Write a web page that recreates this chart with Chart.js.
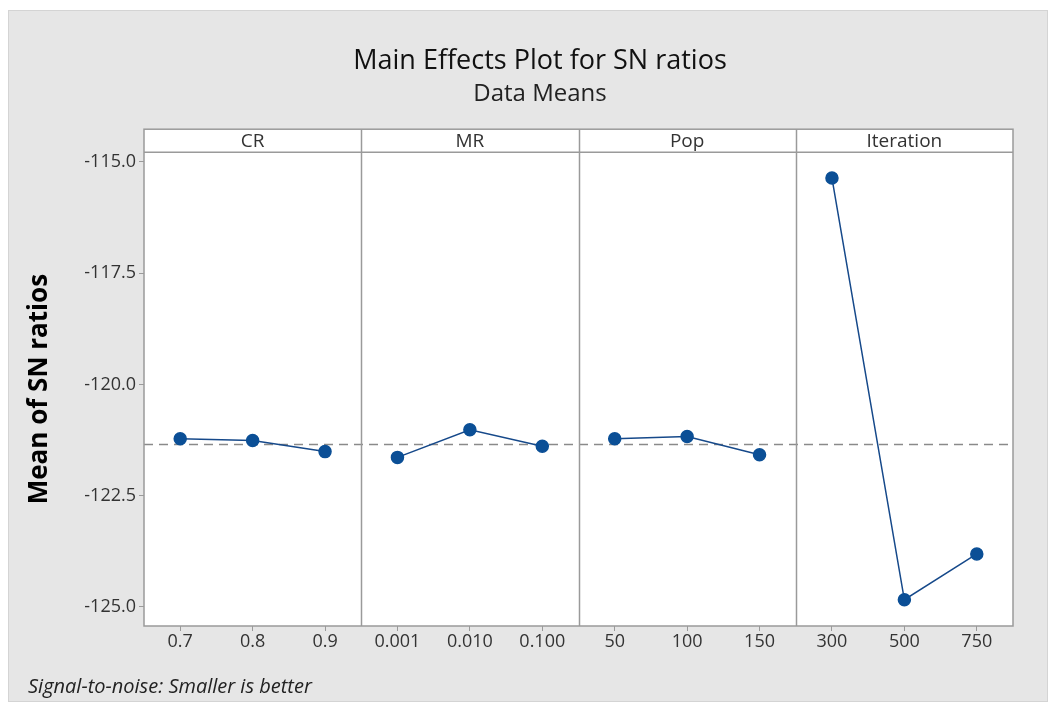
<!DOCTYPE html>
<html>
<head>
<meta charset="utf-8">
<script src="https://cdn.jsdelivr.net/npm/chart.js@4/dist/chart.umd.min.js"></script>
<style>
  html, body { margin: 0; padding: 0; background: #ffffff; }
  #wrap { width: 1057px; height: 707px; }
</style>
</head>
<body>
<div id="wrap"><canvas id="c" width="1057" height="707"></canvas></div>
<script>
// ---- data ----
const factorNames = ['CR', 'MR', 'Pop', 'Iteration'];
const crLevels = ['0.7', '0.8', '0.9'];
const crMeans = [-121.22, -121.26, -121.51];
const mrLevels = ['0.001', '0.010', '0.100'];
const mrMeans = [-121.64, -121.02, -121.39];
const popLevels = ['50', '100', '150'];
const popMeans = [-121.22, -121.17, -121.58];
const iterLevels = ['300', '500', '750'];
const iterMeans = [-115.36, -124.84, -123.81];
const grandMean = -121.34;
const yTicks = [-125.0, -122.5, -120.0, -117.5, -115.0];
const yMin = -125.43;
const yMax = -114.78;

const levelGroups = [crLevels, mrLevels, popLevels, iterLevels];
const meanGroups = [crMeans, mrMeans, popMeans, iterMeans];
const allLabels = [].concat(...levelGroups);

const FONT = "'Open Sans', 'Noto Sans', 'DejaVu Sans', sans-serif";
const BLUE = '#0b4f96';

const datasets = factorNames.map((name, i) => ({
  label: name,
  data: levelGroups[i].map((lv, j) => ({ x: lv, y: meanGroups[i][j] })),
  borderColor: '#16498a',
  backgroundColor: BLUE,
  borderWidth: 1.5,
  pointRadius: 6,
  pointHoverRadius: 6,
  pointBackgroundColor: BLUE,
  pointBorderColor: BLUE,
  tension: 0
}));

const HEADER_H = 23;

const decor = {
  id: 'decor',
  beforeDraw(chart) {
    const ctx = chart.ctx;
    ctx.save();
    ctx.fillStyle = '#ffffff';
    ctx.fillRect(0, 0, chart.width, chart.height);
    ctx.fillStyle = '#e6e6e6';
    ctx.fillRect(8, 10, chart.width - 17, chart.height - 15);
    ctx.strokeStyle = '#d4d4d4';
    ctx.lineWidth = 1;
    ctx.strokeRect(8.5, 10.5, chart.width - 18, chart.height - 16);
    const a = chart.chartArea;
    ctx.fillStyle = '#ffffff';
    ctx.fillRect(a.left, a.top - HEADER_H, a.right - a.left, a.bottom - a.top + HEADER_H);
    ctx.restore();
  },
  beforeDatasetsDraw(chart) {
    const ctx = chart.ctx;
    const a = chart.chartArea;
    const xs = chart.scales.x;
    const ys = chart.scales.y;
    ctx.save();
    const gy = Math.round(ys.getPixelForValue(grandMean)) + 0.5;
    ctx.strokeStyle = '#8a8a8a';
    ctx.lineWidth = 1.5;
    ctx.setLineDash([9, 6]);
    ctx.beginPath();
    ctx.moveTo(a.left, gy);
    ctx.lineTo(a.right, gy);
    ctx.stroke();
    ctx.setLineDash([]);
    ctx.strokeStyle = '#9a9a9a';
    ctx.lineWidth = 1.5;
    let idx = 0;
    for (let g = 0; g < levelGroups.length - 1; g++) {
      idx += levelGroups[g].length;
      const px = Math.round((xs.getPixelForValue(idx - 1) + xs.getPixelForValue(idx)) / 2) + 0.5;
      ctx.beginPath();
      ctx.moveTo(px, a.top - HEADER_H);
      ctx.lineTo(px, a.bottom);
      ctx.stroke();
    }
    ctx.restore();
  },
  afterDraw(chart) {
    const ctx = chart.ctx;
    const a = chart.chartArea;
    const xs = chart.scales.x;
    ctx.save();
    ctx.strokeStyle = '#9a9a9a';
    ctx.lineWidth = 1.5;
    ctx.strokeRect(a.left, a.top - HEADER_H, a.right - a.left, a.bottom - a.top + HEADER_H);
    ctx.beginPath();
    ctx.moveTo(a.left, a.top);
    ctx.lineTo(a.right, a.top);
    ctx.stroke();
    ctx.fillStyle = '#333333';
    ctx.font = '19px ' + FONT;
    ctx.textAlign = 'center';
    ctx.textBaseline = 'middle';
    let start = 0;
    const half = (xs.getPixelForValue(1) - xs.getPixelForValue(0)) / 2;
    levelGroups.forEach((lv, g) => {
      const l = xs.getPixelForValue(start) - half;
      const r = xs.getPixelForValue(start + lv.length - 1) + half;
      ctx.fillText(factorNames[g], (l + r) / 2, a.top - HEADER_H / 2 + 1);
      start += lv.length;
    });
    ctx.textAlign = 'left';
    ctx.textBaseline = 'alphabetic';
    ctx.fillStyle = '#222222';
    ctx.font = 'italic 20px ' + FONT;
    ctx.fillText('Signal-to-noise: Smaller is better', 28, 693);
    ctx.restore();
  }
};

new Chart(document.getElementById('c'), {
  type: 'line',
  data: { labels: allLabels, datasets },
  plugins: [decor],
  options: {
    responsive: false,
    animation: false,
    devicePixelRatio: 1,
    layout: { padding: { left: 67, right: 44, top: 0, bottom: 0 } },
    plugins: {
      legend: { display: false },
      tooltip: { enabled: false },
      title: {
        display: true,
        text: 'Main Effects Plot for SN ratios',
        color: '#111111',
        font: { family: FONT, size: 27, weight: 'normal' },
        padding: { top: 45, bottom: 0 }
      },
      subtitle: {
        display: true,
        text: 'Data Means',
        color: '#222222',
        font: { family: FONT, size: 24, weight: 'normal' },
        padding: { top: 2, bottom: 44 }
      }
    },
    scales: {
      x: {
        type: 'category',
        offset: true,
        afterFit(scale) { scale.height = 81; },
        grid: { drawOnChartArea: false, drawTicks: true, tickLength: 5, offset: false, color: '#9a9a9a' },
        border: { display: false },
        ticks: { color: '#333333', font: { family: FONT, size: 18 }, padding: 0, maxRotation: 0, autoSkip: false }
      },
      y: {
        type: 'linear',
        min: yMin,
        max: yMax,
        afterFit(scale) { scale.width = 77; },
        afterBuildTicks(scale) { scale.ticks = yTicks.map(v => ({ value: v })); },
        grid: { drawOnChartArea: false, drawTicks: true, tickLength: 5, color: '#9a9a9a' },
        border: { display: false },
        ticks: {
          color: '#333333',
          font: { family: FONT, size: 18 },
          padding: 3,
          callback: v => Number(v).toFixed(1)
        },
        title: {
          display: true,
          text: 'Mean of SN ratios',
          color: '#000000',
          font: { family: FONT, size: 26, weight: 'bold' },
          padding: { top: -43, bottom: 0 }
        }
      }
    }
  }
});
</script>
</body>
</html>
